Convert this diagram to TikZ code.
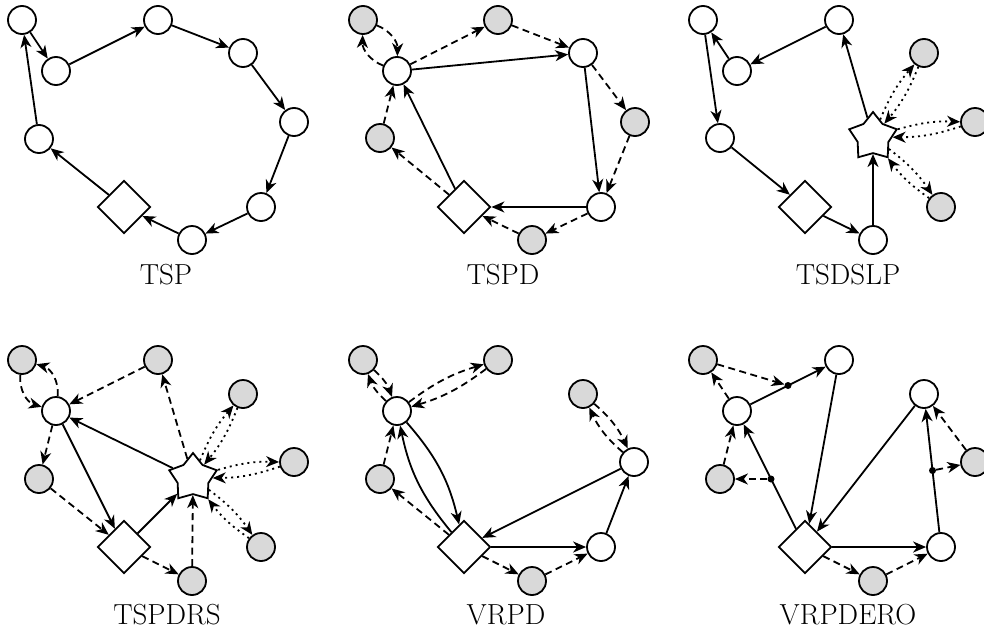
\documentclass[tikz,border=0pt]{standalone}
\usepackage{fontspec}
\usetikzlibrary{shapes.geometric,arrows.meta,calc}
\tikzset{
  wn/.style={circle, draw, fill=white, minimum size=28pt, inner sep=0pt, line width=1.8pt},
  gn/.style={wn, fill=gray!30},
  dep/.style={diamond, draw, fill=white, minimum size=53pt, inner sep=0pt, aspect=1, line width=1.8pt},
  stn/.style={star, star points=5, star point ratio=1.55, draw, fill=white, minimum size=50pt, inner sep=0pt, line width=1.8pt},
  dotn/.style={circle, fill=black, minimum size=7pt, inner sep=0pt},
  arr/.style={-{Stealth[length=13pt,width=11pt,inset=4pt]}, line width=1.8pt},
  dsh/.style={arr, dash pattern=on 7pt off 4.5pt},
  dtt/.style={arr, dash pattern=on 2pt off 4pt},
  lbl/.style={font=\fontsize{29}{34}\selectfont, anchor=base, inner sep=0pt}
}
\begin{document}
\begin{tikzpicture}[x=1pt,y=-1pt]
\useasboundingbox (0,0) rectangle (984,632);

% ---------------- TSP ----------------
\node[wn] (a1) at (22,20) {};
\node[wn] (a2) at (56,71) {};
\node[wn] (a3) at (158,20) {};
\node[wn] (a4) at (243,53) {};
\node[wn] (a5) at (294,122) {};
\node[wn] (a6) at (261,207) {};
\node[wn] (a7) at (192,240) {};
\node[dep] (ad) at (124,207) {};
\node[wn] (a8) at (39,139) {};
\draw[arr] (a1) -- (a2);
\draw[arr] (a2) -- (a3);
\draw[arr] (a3) -- (a4);
\draw[arr] (a4) -- (a5);
\draw[arr] (a5) -- (a6);
\draw[arr] (a6) -- (a7);
\draw[arr] (a7) -- (ad);
\draw[arr] (ad) -- (a8);
\draw[arr] (a8) -- (a1);
\node[lbl] (la) at (166,284.5) {TSP};

% ---------------- TSPD ----------------
\node[gn] (b1) at (363,20) {};
\node[wn] (bw1) at (397,71) {};
\node[gn] (b2) at (498,20) {};
\node[wn] (bw2) at (583,53) {};
\node[gn] (b3) at (635,122) {};
\node[wn] (bw3) at (601,207) {};
\node[gn] (b4) at (532,240) {};
\node[dep] (bd) at (464,207) {};
\node[gn] (b5) at (380,138) {};
\draw[dsh] (bw1) to[bend left=35] (b1);
\draw[dsh] (b1) to[bend left=35] (bw1);
\draw[dsh] (bw1) -- (b2);
\draw[dsh] (b2) -- (bw2);
\draw[arr] (bw1) -- (bw2);
\draw[dsh] (bw2) -- (b3);
\draw[dsh] (b3) -- (bw3);
\draw[arr] (bw2) -- (bw3);
\draw[arr] (bw3) -- (bd);
\draw[dsh] (bw3) -- (b4);
\draw[dsh] (b4) -- (bd);
\draw[arr] (bd) -- (bw1);
\draw[dsh] (bd) -- (b5);
\draw[dsh] (b5) -- (bw1);
\node[lbl] (lb) at (503,284.5) {TSPD};

% ---------------- TSDSLP ----------------
\node[wn] (c1) at (703,20) {};
\node[wn] (c2) at (737,71) {};
\node[wn] (c3) at (839,20) {};
\node[stn] (cs) at (873,137) {};
\node[gn] (cg1) at (924,53) {};
\node[gn] (cg2) at (975,122) {};
\node[gn] (cg3) at (941,207) {};
\node[wn] (c4) at (873,240) {};
\node[dep] (cd) at (805,207) {};
\node[wn] (c5) at (720,138) {};
\draw[arr] (c3) -- (c2);
\draw[arr] (c2) -- (c1);
\draw[arr] (c1) -- (c5);
\draw[arr] (c5) -- (cd);
\draw[arr] (cd) -- (c4);
\draw[arr] (c4) -- (cs);
\draw[arr] (cs) -- (c3);
\draw[dtt] (cs) to[bend left=9] (cg1);
\draw[dtt] (cg1) to[bend left=9] (cs);
\draw[dtt] (cs) to[bend left=9] (cg2);
\draw[dtt] (cg2) to[bend left=9] (cs);
\draw[dtt] (cs) to[bend left=9] (cg3);
\draw[dtt] (cg3) to[bend left=9] (cs);
\node[lbl] (lc) at (848,284.5) {TSDSLP};

% ---------------- TSPDRS ----------------
\node[gn] (d1) at (22,360) {};
\node[wn] (dw) at (56,411) {};
\node[gn] (d2) at (158,360) {};
\node[gn] (d3) at (243,394) {};
\node[stn] (ds) at (193,478) {};
\node[gn] (d4) at (294,462) {};
\node[gn] (d5) at (261,547) {};
\node[gn] (d6) at (192,581) {};
\node[dep] (dd) at (124,547) {};
\node[gn] (d7) at (39,479) {};
\draw[dsh] (dw) to[bend right=40] (d1);
\draw[dsh] (d1) to[bend right=40] (dw);
\draw[dsh] (d2) -- (dw);
\draw[dsh] (dw) -- (d7);
\draw[dsh] (d7) -- (dd);
\draw[arr] (dw) -- (dd);
\draw[arr] (ds) -- (dw);
\draw[arr] (dd) -- (ds);
\draw[dsh] (dd) -- (d6);
\draw[dsh] (d6) -- (ds);
\draw[dsh] (ds) -- (d2);
\draw[dtt] (ds) to[bend left=9] (d3);
\draw[dtt] (d3) to[bend left=9] (ds);
\draw[dtt] (ds) to[bend left=9] (d4);
\draw[dtt] (d4) to[bend left=9] (ds);
\draw[dtt] (ds) to[bend left=9] (d5);
\draw[dtt] (d5) to[bend left=9] (ds);
\node[lbl] (ld) at (167,624.5) {TSPDRS};

% ---------------- VRPD ----------------
\node[gn] (e1) at (363,360) {};
\node[wn] (ew1) at (397,411) {};
\node[gn] (e2) at (498,360) {};
\node[gn] (e3) at (583,394) {};
\node[wn] (ew2) at (634,462) {};
\node[wn] (ew3) at (601,547) {};
\node[gn] (e4) at (532,581) {};
\node[dep] (ed) at (464,547) {};
\node[gn] (e5) at (380,479) {};
\draw[dsh] (ew1) to[bend left=14] (e1);
\draw[dsh] (e1) to[bend left=14] (ew1);
\draw[dsh] (ew1) to[bend left=10] (e2);
\draw[dsh] (e2) to[bend left=10] (ew1);
\draw[arr] (ew1) to[bend left=14] (ed);
\draw[arr] (ed) to[bend left=14] (ew1);
\draw[dsh] (ed) -- (e5);
\draw[dsh] (e5) -- (ew1);
\draw[arr] (ed) -- (ew3);
\draw[dsh] (ed) -- (e4);
\draw[dsh] (e4) -- (ew3);
\draw[arr] (ew3) -- (ew2);
\draw[arr] (ew2) -- (ed);
\draw[dsh] (ew2) to[bend left=12] (e3);
\draw[dsh] (e3) to[bend left=12] (ew2);
\node[lbl] (le) at (506,624.5) {VRPD};

% ---------------- VRPDERO ----------------
\node[gn] (f1) at (703,360) {};
\node[wn] (fw1) at (737,411) {};
\node[wn] (fw2) at (839,360) {};
\node[wn] (fw3) at (924,394) {};
\node[gn] (f2) at (975,462) {};
\node[wn] (fw4) at (941,547) {};
\node[gn] (f3) at (873,581) {};
\node[dep] (fd) at (805,547) {};
\node[gn] (f4) at (720,479) {};
\node[dotn] (fp1) at ($(fw1)!0.5!(fw2)$) {};
\node[dotn] (fp2) at ($(fd)!0.5!(fw1)$) {};
\node[dotn] (fp3) at ($(fw4)!0.5!(fw3)$) {};
\draw[arr] (fw1) -- (fw2);
\draw[arr] (fw2) -- (fd);
\draw[arr] (fw3) -- (fd);
\draw[arr] (fd) -- (fw1);
\draw[arr] (fd) -- (fw4);
\draw[arr] (fw4) -- (fw3);
\draw[dsh] (fw1) -- (f1);
\draw[dsh] (f1) -- (fp1);
\draw[dsh] (fp2) -- (f4);
\draw[dsh] (f4) -- (fw1);
\draw[dsh] (fd) -- (f3);
\draw[dsh] (f3) -- (fw4);
\draw[dsh] (fp3) -- (f2);
\draw[dsh] (f2) -- (fw3);
\node[lbl] (lf) at (848,624.5) {VRPDERO};
\end{tikzpicture}
\end{document}
